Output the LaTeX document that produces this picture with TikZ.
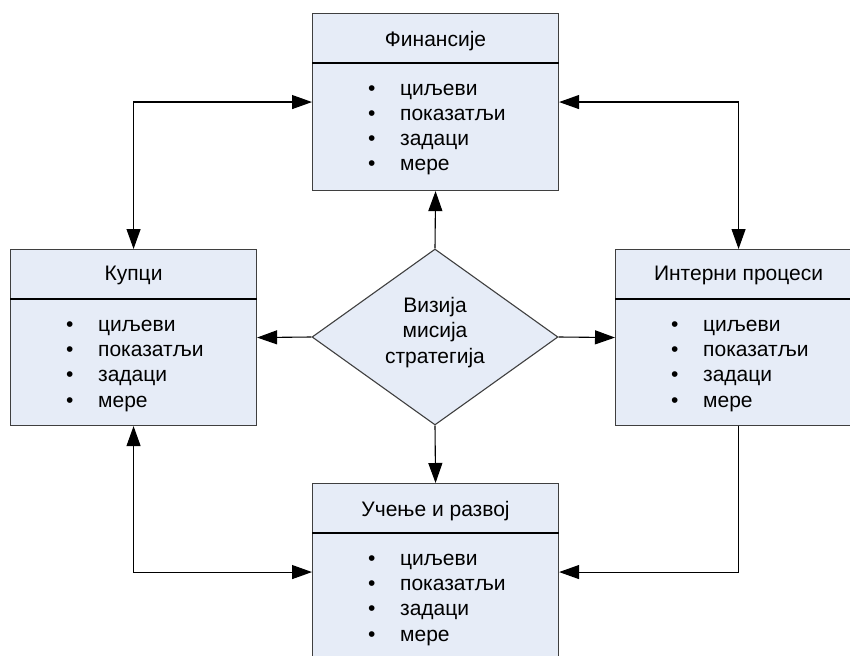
\documentclass[tikz,border=0pt]{standalone}
\usepackage{fontspec}
\setmainfont{Liberation Sans}
\usetikzlibrary{arrows.meta,shapes.geometric,calc}

\definecolor{boxfill}{HTML}{E6ECF7}
\definecolor{boxline}{HTML}{3F3F3F}

\tikzset{
  panel/.style={draw=boxline, fill=boxfill, line width=1.1pt, inner sep=0pt,
    minimum width=246pt, minimum height=177pt, anchor=north west},
  divider/.style={draw=black, line width=1.1pt},
  title/.style={inner sep=0pt, anchor=base},
  items/.style={inner sep=0pt, anchor=base west, align=left},
  vision/.style={diamond, draw=boxline, fill=boxfill, line width=1.1pt, inner sep=0pt,
    minimum width=246pt, minimum height=176pt},
  visiontext/.style={inner sep=0pt, anchor=base, align=center},
  link/.style={draw=black, line width=1.1pt},
  tip/.style={-{Triangle[length=20pt,width=14pt]}},
  tips/.style={{Triangle[length=20pt,width=14pt]}-{Triangle[length=20pt,width=14pt]}},
}

\newcommand{\bitem}[1]{\makebox[32pt][l]{•}#1}
\newcommand{\bsclist}{\bitem{циљеви}\\\bitem{показатљи}\\\bitem{задаци}\\\bitem{мере}}

\begin{document}
\begin{tikzpicture}[x=1pt, y=-1pt, font=\fontsize{21}{25.3}\selectfont]
\useasboundingbox (0,0) rectangle (850,655);
\clip (0,0) rectangle (850,655);

% four perspective panels
\node[panel] (fin) at (312,13) {};
\node[panel, minimum height=176pt] (kup) at (10,249) {};
\node[panel, minimum height=176pt] (int) at (615,249) {};
\node[panel] (uc) at (312,483) {};

% header dividers
\foreach \p in {fin,kup,int,uc}{
  \draw[divider] ($(\p.north west)+(0,50)$) -- ($(\p.north east)+(0,50)$);
}

% panel titles
\node[title] (finT) at ($(fin.north)+(0,34)$) {Финансије};
\node[title] (kupT) at ($(kup.north)+(0,31)$) {Купци};
\node[title] (intT) at ($(int.north)+(0,31)$) {Интерни процеси};
\node[title] (ucT) at ($(uc.north)+(0,33)$) {Учење и развој};

% bullet lists (anchored on the baseline of the last line)
\node[items] (finL) at ($(fin.north west)+(56,158)$) {\bsclist};
\node[items] (kupL) at ($(kup.north west)+(56,158)$) {\bsclist};
\node[items] (intL) at ($(int.north west)+(56,158)$) {\bsclist};
\node[items] (ucL) at ($(uc.north west)+(56,158)$) {\bsclist};

% central diamond
\node[vision] (vis) at (435,337) {};
\node[visiontext] (visT) at ($(vis.center)+(0,26)$) {Визија\\мисија\\стратегија};

% connectors from the diamond
\draw[link, tip] (vis.north) -- (fin.south);
\draw[link, tip] (vis.west) -- (kup.east);
\draw[link, tip] (vis.east) -- (int.west);
\draw[link, tip] (vis.south) -- (uc.north);

% connectors between panels
\draw[link, tips] (kup.north) |- (fin.west);
\draw[link, tips] (fin.east) -| (int.north);
\draw[link, tips] (kup.south) |- (uc.west);
\draw[link, tip] (int.south) |- (uc.east);
\end{tikzpicture}
\end{document}
